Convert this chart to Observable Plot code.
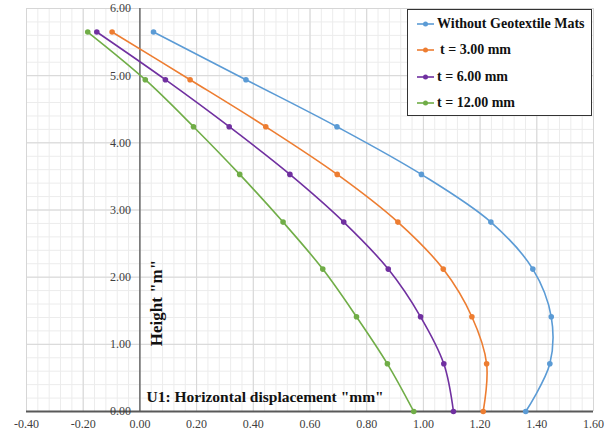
<!DOCTYPE html>
<html>
<head>
<meta charset="utf-8">
<script src="https://cdn.jsdelivr.net/npm/d3@7"></script>
<script src="https://cdn.jsdelivr.net/npm/@observablehq/plot@0.6"></script>
<style>
  html, body { margin: 0; padding: 0; background: #fff; }
  #wrap { position: relative; width: 610px; height: 439px; }
  #legend {
    position: absolute; left: 407px; top: 9px; width: 183px; height: 105px;
    border: 1.3px solid #333; background: #fff; box-sizing: content-box;
    font-family: "Liberation Serif", serif; font-weight: bold; font-size: 14px; color: #111;
  }
  .item { position: absolute; left: 8px; height: 20px; display: flex; align-items: center; }
  .item svg { display: block; }
</style>
</head>
<body>
<div id="wrap"></div>
<script>
const heights = [0, 0.71, 1.41, 2.12, 2.82, 3.53, 4.24, 4.94, 5.65];
const seriesNames = ["Without Geotextile Mats", "t = 3.00 mm", "t = 6.00 mm", "t = 12.00 mm"];
const seriesColors = ["#5B9BD5", "#ED7D31", "#7030A0", "#70AD47"];
const withoutMats = [1.361, 1.446, 1.451, 1.386, 1.238, 0.993, 0.695, 0.374, 0.048];
const t3mm  = [1.211, 1.223, 1.171, 1.070, 0.910, 0.696, 0.444, 0.177, -0.098];
const t6mm  = [1.106, 1.072, 0.990, 0.876, 0.719, 0.529, 0.315, 0.090, -0.152];
const t12mm = [0.966, 0.873, 0.764, 0.645, 0.505, 0.352, 0.189, 0.019, -0.184];
const xTicks = [-0.4, -0.2, 0, 0.2, 0.4, 0.6, 0.8, 1.0, 1.2, 1.4, 1.6];
const yTicks = [0, 1, 2, 3, 4, 5, 6];
const xMinor = d3.range(-0.4, 1.6001, 0.04);
const yMinor = d3.range(0, 6.0001, 0.2);

const seriesValues = [withoutMats, t3mm, t6mm, t12mm];
const rows = seriesValues.flatMap((vals, i) =>
  vals.map((v, j) => ({series: seriesNames[i], x: v, y: heights[j]})));

const fmt = d => d.toFixed(2);
const font = "Liberation Serif, serif";

const chart = Plot.plot({
  width: 610, height: 439,
  marginLeft: 26, marginRight: 17, marginTop: 8, marginBottom: 28,
  style: {fontFamily: font, background: "#fff"},
  x: {domain: [-0.4, 1.6], axis: null},
  y: {domain: [0, 6], axis: null},
  color: {domain: seriesNames, range: seriesColors},
  marks: [
    Plot.gridX(xMinor, {stroke: "#ececec", strokeOpacity: 1, strokeWidth: 1}),
    Plot.gridY(yMinor, {stroke: "#ececec", strokeOpacity: 1, strokeWidth: 1}),
    Plot.gridX(xTicks, {stroke: "#d6d6d6", strokeOpacity: 1, strokeWidth: 1}),
    Plot.gridY(yTicks, {stroke: "#d6d6d6", strokeOpacity: 1, strokeWidth: 1}),
    Plot.ruleX([0], {stroke: "#595959", strokeWidth: 1.3}),
    Plot.ruleY([0], {stroke: "#595959", strokeWidth: 2}),
    Plot.text(xTicks, {x: d => d, frameAnchor: "bottom", text: fmt, dy: 16, fontSize: 12, fill: "#404040", fontFamily: font}),
    Plot.text(yTicks, {x: 0, y: d => d, text: fmt, textAnchor: "end", dx: -9, fontSize: 12, fill: "#404040", fontFamily: font}),
    Plot.line(rows, {x: "x", y: "y", z: "series", stroke: "series", strokeWidth: 1.6, curve: "catmull-rom"}),
    Plot.dot(rows, {x: "x", y: "y", fill: "series", r: 2.8}),
    Plot.text(["U1: Horizontal displacement \"mm\""], {frameAnchor: "bottom-left", text: d => d, textAnchor: "start", lineAnchor: "bottom", dx: 120, dy: -10, fontSize: 15.5, fontWeight: "bold", fill: "#111", fontFamily: font}),
    Plot.text(["Height \"m\""], {frameAnchor: "left", text: d => d, rotate: -90, textAnchor: "middle", dx: 130, dy: 93, fontSize: 17, fontWeight: "bold", fill: "#111", fontFamily: font})
  ]
});

const wrap = document.getElementById("wrap");
wrap.appendChild(chart);

const legend = document.createElement("div");
legend.id = "legend";
const tops = [4, 30, 57, 83];
seriesNames.forEach((name, i) => {
  const item = document.createElement("div");
  item.className = "item";
  item.style.top = tops[i] + "px";
  const ns = "http://www.w3.org/2000/svg";
  const s = document.createElementNS(ns, "svg");
  s.setAttribute("width", "20"); s.setAttribute("height", "10");
  const l = document.createElementNS(ns, "line");
  l.setAttribute("x1", "1"); l.setAttribute("x2", "18"); l.setAttribute("y1", "5"); l.setAttribute("y2", "5");
  l.setAttribute("stroke", seriesColors[i]); l.setAttribute("stroke-width", "1.6");
  const c = document.createElementNS(ns, "circle");
  c.setAttribute("cx", "9.5"); c.setAttribute("cy", "5"); c.setAttribute("r", "2.5");
  c.setAttribute("fill", seriesColors[i]);
  s.appendChild(l); s.appendChild(c);
  const t = document.createElement("span");
  t.textContent = name;
  t.style.marginLeft = (i === 1 ? "4px" : "1px");
  item.appendChild(s); item.appendChild(t);
  legend.appendChild(item);
});
wrap.appendChild(legend);
</script>
</body>
</html>
